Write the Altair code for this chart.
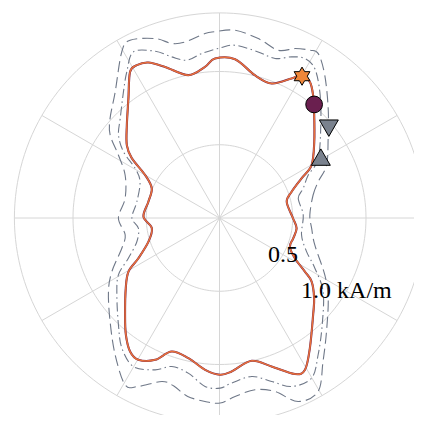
import numpy as np
import pandas as pd
import altair as alt

# ---- data (theta in degrees, r in kA/m) ----
main_theta = [0, 13.6, 20, 25.8, 29.9, 38.8, 48.3, 52.7, 56.4, 60.1, 62.7, 68.8, 76.1, 84.4,
              91.6, 95.5, 102.3, 109.8, 114.6, 118.4, 121.5, 127.3, 134.9, 141.8, 145.7, 150,
              156.3, 167.1, 179, 188.6, 198.4, 206.4, 210.5, 216.8, 225.7, 231.3, 236.2, 240.2,
              245.6, 250.3, 257.5, 264.6, 270.2, 274.5, 282.7, 289.3, 295.8, 299.4, 304.8, 314,
              319.7, 325.4, 327.9, 331.9, 337.8, 344.6, 352.4]
main_r = [0.501, 0.472, 0.524, 0.622, 0.725, 0.830, 0.971, 1.054, 1.115, 1.124, 1.072, 0.985,
          1.004, 1.089, 1.089, 1.036, 0.998, 1.096, 1.167, 1.186, 1.169, 1.026, 0.896, 0.805,
          0.725, 0.586, 0.505, 0.498, 0.519, 0.467, 0.511, 0.618, 0.721, 0.799, 0.923, 1.022,
          1.097, 1.115, 1.063, 0.968, 0.980, 1.041, 1.070, 1.051, 0.999, 1.074, 1.183, 1.189,
          1.081, 0.920, 0.847, 0.764, 0.688, 0.583, 0.519, 0.522, 0.531]

dashdot_theta = [2.1, 14, 19.5, 25.8, 31.1, 43.5, 51.5, 57.5, 61.8, 65.9, 70.8, 76.9, 84.9, 89.8,
                 96.2, 101.7, 106.5, 111.1, 117.4, 122.4, 127.3, 134.9, 140.6, 145.4, 149.5, 155.5,
                 168.9, 180, 187.2, 196, 203.8, 209.4, 216.8, 226.6, 233.1, 239.9, 247, 252.2,
                 258.6, 265.1, 270.2, 274.2, 281.5, 287.7, 293.2, 299.9, 305.8, 313.9, 324.6,
                 332.2, 338.9, 348.3]
dashdot_r = [0.572, 0.554, 0.606, 0.673, 0.787, 0.954, 1.100, 1.210, 1.235, 1.205, 1.153, 1.164,
             1.184, 1.161, 1.129, 1.100, 1.147, 1.220, 1.277, 1.181, 1.082, 0.960, 0.892, 0.796,
             0.668, 0.596, 0.575, 0.598, 0.558, 0.587, 0.680, 0.792, 0.875, 1.004, 1.110, 1.172,
             1.126, 1.065, 1.080, 1.154, 1.161, 1.130, 1.104, 1.171, 1.251, 1.261, 1.151, 1.011,
             0.868, 0.736, 0.637, 0.572]

dashed_theta = [1.9, 13.8, 20.2, 26.3, 36.2, 45.2, 53.6, 59, 61.7, 66, 70.7, 77.8, 85.3, 91.4,
                94.5, 101.1, 105.3, 109.7, 116.7, 120.5, 129.6, 137.7, 142.8, 148.1, 155.5, 168.2,
                180, 190.2, 197.2, 206.5, 213.5, 223.4, 232.7, 240.5, 244.3, 250.6, 254.8, 259.9,
                265.5, 270.2, 275, 281.7, 287.7, 293.2, 299.6, 305.8, 313.3, 323.6, 331.6, 344.2,
                353.6]
dashed_r = [0.617, 0.658, 0.718, 0.815, 0.919, 1.053, 1.211, 1.309, 1.301, 1.266, 1.213, 1.253,
            1.286, 1.272, 1.263, 1.224, 1.235, 1.301, 1.358, 1.315, 1.117, 1.010, 0.937, 0.813,
            0.708, 0.658, 0.690, 0.654, 0.698, 0.821, 0.909, 1.028, 1.175, 1.308, 1.276, 1.183,
            1.189, 1.237, 1.256, 1.263, 1.223, 1.197, 1.243, 1.363, 1.362, 1.208, 1.065, 0.922,
            0.817, 0.676, 0.633]

marker_names = ["star", "circle", "down", "up"]
marker_theta = [59.8, 50.2, 39.4, 31.0]
marker_r = [1.12, 1.009, 0.966, 0.807]

r_ticks = [0.5, 1.0]
r_tick_labels = ["0.5", "1.0 kA/m"]
r_label_angle = -30
r_max = 1.4
spoke_angles = [0, 30, 60, 90, 120, 150, 180, 210, 240, 270, 300, 330]

assert len(main_theta) == len(main_r)
assert len(dashdot_theta) == len(dashdot_r)
assert len(dashed_theta) == len(dashed_r)

GRID = "#d6d6d6"
ORANGE = "#e8703a"
PURPLE = "#6a1f4f"
GRAYBLUE = "#6f7888"
TRI = "#7a828e"
STAR = "#f0873a"

# view geometry: the outer ring is clipped by the window on the right/bottom, as in the reference
W, H = 406, 407
PX_PER_UNIT = 146.5
CX, CY = 211.5, 210.0
xs = alt.Scale(domain=[-CX / PX_PER_UNIT, (W - CX) / PX_PER_UNIT], nice=False, zero=False)
ys = alt.Scale(domain=[-(H - CY) / PX_PER_UNIT, CY / PX_PER_UNIT], nice=False, zero=False)


def polar_df(theta, r):
    return pd.DataFrame({"theta": theta, "r": r, "i": range(len(theta))})


def xy(ch):
    return ch.transform_calculate(
        x="datum.r*cos(datum.theta*PI/180)",
        y="datum.r*sin(datum.theta*PI/180)",
    )


X = alt.X("x:Q", scale=xs, axis=None)
Y = alt.Y("y:Q", scale=ys, axis=None)

# grid circles
circ_rows = []
for rv in r_ticks + [r_max]:
    for k, t in enumerate(np.linspace(0, 360, 181)):
        circ_rows.append({"ring": rv, "theta": t, "r": rv, "i": k})
circ_df = pd.DataFrame(circ_rows)
rings = xy(alt.Chart(circ_df)).mark_line(color=GRID, strokeWidth=1).encode(
    x=X, y=Y, detail="ring:N", order="i:Q",
)

spoke_df = pd.DataFrame({"theta": spoke_angles, "r": [r_max] * len(spoke_angles)})
spokes = xy(alt.Chart(spoke_df)).transform_calculate(zx="0", zy="0").mark_rule(
    color=GRID, strokeWidth=1
).encode(
    x=alt.X("zx:Q", scale=xs, axis=None),
    y=alt.Y("zy:Q", scale=ys, axis=None),
    x2="x:Q",
    y2="y:Q",
)


def curve(theta, r, color, width, dash=None):
    kw = dict(color=color, strokeWidth=width, interpolate="cardinal-closed")
    if dash is not None:
        kw["strokeDash"] = dash
    return xy(alt.Chart(polar_df(theta, r))).mark_line(**kw).encode(x=X, y=Y, order="i:Q")


dashed = curve(dashed_theta, dashed_r, GRAYBLUE, 1.1, [11, 5])
dashdot = curve(dashdot_theta, dashdot_r, GRAYBLUE, 1.1, [9, 3.5, 1.5, 3.5])
main_p = curve(main_theta, main_r, PURPLE, 2.1)
main_o = curve(main_theta, main_r, ORANGE, 1.5)

mk_df = pd.DataFrame({"name": marker_names, "theta": marker_theta, "r": marker_r})
HEX = ("M0,-1L0.289,-0.5L0.866,-0.5L0.577,0L0.866,0.5L0.289,0.5L0,1L-0.289,0.5"
       "L-0.866,0.5L-0.577,0L-0.866,-0.5L-0.289,-0.5Z")


def marker(name, shape, fill, size):
    return xy(alt.Chart(mk_df)).transform_filter(
        alt.datum.name == name
    ).mark_point(shape=shape, filled=True, fill=fill, stroke="black",
                 strokeWidth=1, size=size, opacity=1).encode(x=X, y=Y)


markers = [
    marker("up", "triangle-up", TRI, 360),
    marker("down", "triangle-down", TRI, 360),
    marker("circle", "circle", PURPLE, 280),
    marker("star", HEX, STAR, 330),
]

lab_df = pd.DataFrame({"theta": [r_label_angle] * len(r_ticks), "r": r_ticks,
                       "label": r_tick_labels})
labels = xy(alt.Chart(lab_df)).mark_text(
    font="Liberation Serif", fontSize=24, color="black", align="center", baseline="middle"
).encode(x=X, y=Y, text="label:N")

chart = alt.layer(rings, spokes, dashed, dashdot, main_p, main_o, *markers, labels).properties(
    width=W, height=H,
    padding=0,
    autosize=alt.AutoSizeParams(type="none"),
).configure_view(stroke=None)

chart.save("out.html", embed_options={"renderer": "svg", "actions": False})
